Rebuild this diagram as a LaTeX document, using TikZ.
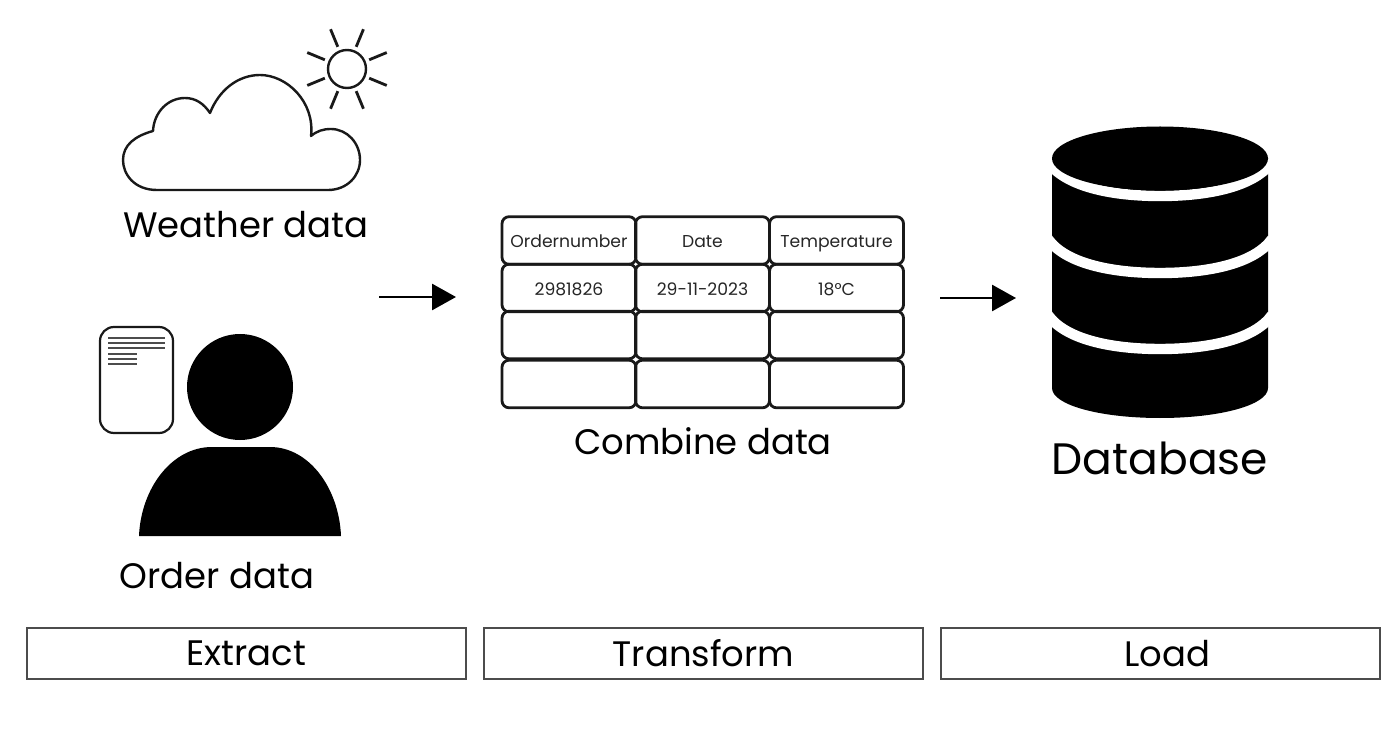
\documentclass[tikz,border=0pt]{standalone}
\usepackage{fontspec}
\setmainfont{Poppins}
\usetikzlibrary{arrows.meta, positioning, shapes.geometric}
\tikzset{
    caption/.style={font=\fontsize{17.7}{20}\selectfont, text=black, inner sep=0pt},
    phasebox/.style={draw=black!70, line width=0.7pt, minimum width=219.5pt, minimum height=25.5pt, inner sep=0pt, font=\fontsize{17.7}{20}\selectfont, text=black},
    cell/.style={draw=black!90, line width=1.4pt, rounded corners=3.5pt, minimum width=67pt, minimum height=23.8pt, inner sep=0pt, text height=8pt, text depth=0.5pt, font=\fontsize{8.6}{10}\selectfont, text=black!85},
    flow/.style={-{Triangle[length=12pt,width=13pt]}, line width=1.4pt, black},
    icon/.style={line width=1.2pt, black!90},
    docline/.style={line width=0.9pt, black!70}
}
\begin{document}
\begin{tikzpicture}[x=0.5pt,y=-0.5pt]
    \useasboundingbox (0,0) rectangle (1390,732);

    \draw[icon, line join=round] (157,190)
        .. controls (134,190) and (123,174) .. (123,160)
        .. controls (123,145) and (135,136) .. (153,131)
        .. controls (154,112) and (168,98) .. (185,98)
        .. controls (196,98) and (204,104) .. (210,113)
        .. controls (219,90) and (238,75) .. (260,75)
        .. controls (287,75) and (315,102) .. (311,136)
        .. controls (317,131) and (323,129) .. (331,129)
        .. controls (347,129) and (360,143) .. (360,160)
        .. controls (360,176) and (347,190) .. (328,190) -- cycle;
    \node (sun) [circle, draw=black!90, line width=1.2pt, minimum size=19pt, inner sep=0pt] at (347,69) {};
    \foreach \a in {22.5,67.5,...,337.5} {
        \draw[icon, line width=1.4pt] ([shift={(\a:24)}]sun.center) -- ([shift={(\a:43)}]sun.center);
    }
    \node (weather) [caption] at (246,225) {Weather data};

    \node (doc) [draw=black!90, line width=1.1pt, rounded corners=7pt, fill=white, minimum width=36.5pt, minimum height=53pt, inner sep=0pt] at (136.5,380) {};
    \foreach \y in {338,343,348} {
        \draw[docline] (108,\y) -- (165,\y);
    }
    \foreach \y in {354,359,364} {
        \draw[docline] (108,\y) -- (137,\y);
    }
    \node (head) [circle, fill=black, minimum size=53pt, inner sep=0pt] at (240,387) {};
    \fill[black] (139,536)
        .. controls (141,488) and (172,447) .. (212,447) -- (270,447)
        .. controls (309,447) and (339,488) .. (341,536) -- cycle;
    \node (order) [caption] at (217,576) {Order data};

    \node (number) [cell] at (569,240.5) {Ordernumber};
    \node (date) [cell] at (702.5,240.5) {Date};
    \node (temp) [cell] at (836.5,240.5) {Temperature};
    \node (numberval) [cell] at (569,288) {2981826};
    \node (dateval) [cell] at (702.5,288) {29-11-2023};
    \node (tempval) [cell] at (836.5,288) {18°C};
    \foreach \x/\n in {569/a,702.5/b,836.5/c} {
        \node (empty\n1) [cell] at (\x,335) {};
        \node (empty\n2) [cell] at (\x,384) {};
    }
    \node (combine) [caption] at (703,441) {Combine data};

    \fill[black] (1052,158) -- (1052,388)
        .. controls (1052,405) and (1100,418) .. (1160,418)
        .. controls (1220,418) and (1268,405) .. (1268,388) -- (1268,158) -- cycle;
    \foreach \y in {166,243,319} {
        \draw[white, line width=5.2pt] (1048,\y-4)
            .. controls (1065,\y+20) and (1110,\y+30) .. (1160,\y+30)
            .. controls (1210,\y+30) and (1255,\y+20) .. (1272,\y-4);
    }
    \node (top) [ellipse, fill=black, minimum width=108pt, minimum height=32pt, inner sep=0pt] at (1160,158.5) {};
    \node (database) [caption, font=\fontsize{22}{26}\selectfont] at (1160,458) {Database};

    \coordinate (extractout) at (379,297);
    \coordinate (transformin) at (456,297);
    \coordinate (transformout) at (940,298);
    \coordinate (loadin) at (1016,298);
    \draw[flow] (extractout) -- (transformin);
    \draw[flow] (transformout) -- (loadin);

    \node (extract) [phasebox] at (246.5,653.5) {Extract};
    \node (transform) [phasebox] at (703.5,653.5) {Transform};
    \node (load) [phasebox] at (1160.5,653.5) {\hspace*{7pt}Load};
\end{tikzpicture}
\end{document}
